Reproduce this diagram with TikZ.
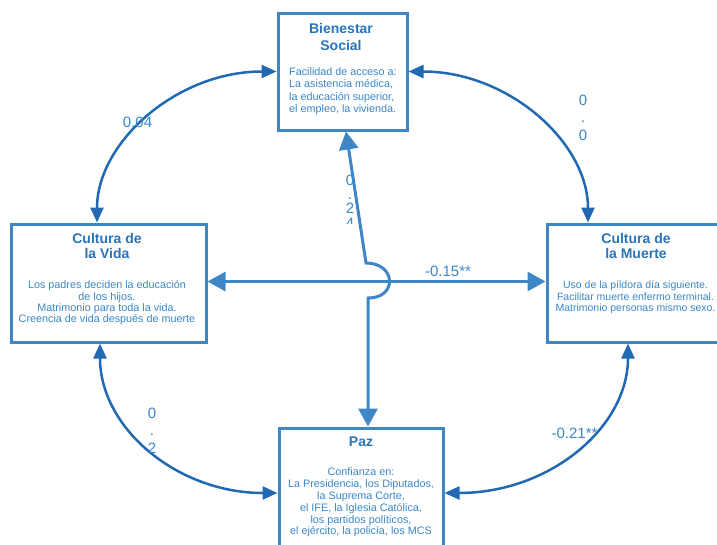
\documentclass[tikz,border=0pt]{standalone}
\usepackage{fontspec}
\setmainfont{Liberation Sans}
\usetikzlibrary{arrows.meta}
\definecolor{boxc}{HTML}{3F86C6}
\definecolor{arcc}{HTML}{2169B3}
\definecolor{linec}{HTML}{3F86C6}
\definecolor{textc}{HTML}{3A87C9}
\definecolor{titlec}{HTML}{2A74B9}
\begin{document}
\begin{tikzpicture}[x=1pt,y=-1pt,
  box/.style={draw=boxc, line width=3pt, fill=white, inner sep=0pt},
  ttl/.style={text=titlec, align=center, inner sep=0pt, font=\bfseries\fontsize{14}{#1}\selectfont},
  ttl/.default=15,
  body/.style={text=textc, inner sep=0pt, font=\fontsize{10.8}{#1}\selectfont},
  body/.default=12,
  lbl/.style={text=textc, inner sep=0pt, font=\fontsize{15}{18}\selectfont},
  arcline/.style={draw=arcc, line width=2.5pt, {Triangle[length=15pt,width=13pt]}-{Triangle[length=15pt,width=13pt]}},
  strline/.style={draw=linec, line width=3pt, {Triangle[length=18pt,width=19pt]}-{Triangle[length=18pt,width=19pt]}}
]
\useasboundingbox (0,0) rectangle (717,544);
\clip (0,0) rectangle (717,544);
\fill[white] (0,0) rectangle (717,544);

% boxes
\node[box, minimum width=129pt, minimum height=117pt] (bien) at (342.5,71.5) {};
\node[box, minimum width=195pt, minimum height=118pt] (vida) at (108.5,283) {};
\node[box, minimum width=178pt, minimum height=118pt] (muerte) at (636,283) {};
\node[box, minimum width=164pt, minimum height=130pt] (paz) at (361,493) {};

% titles
\node[ttl=17] (bienT) at (341,36.5) {Bienestar\\Social};
\node[ttl] (vidaT) at (107,245.5) {Cultura de\\la Vida};
\node[ttl] (muerteT) at (636,245.5) {Cultura de\\la Muerte};
\node[ttl] (pazT) at (361,442) {Paz};

% bodies
\node[body=12.2, align=left, anchor=west] (bienB) at (289,91.3) {Facilidad de acceso a:\\La asistencia médica,\\la educación superior,\\el empleo, la vivienda.};
\node[body=11.4, align=center] (vidaB) at (107,303) {Los padres deciden la educación\\de los hijos.\\Matrimonio para toda la vida.\\Creencia de vida después de muerte};
\node[text=textc, inner sep=0pt, font=\fontsize{10.5}{11.5}\selectfont, align=center] (muerteB) at (635.5,297.5) {Uso de la píldora día siguiente.\\Facilitar muerte enfermo terminal.\\Matrimonio personas mismo sexo.};
\node[body=11.8, align=center] (pazB) at (361,502.5) {Confianza en:\\La Presidencia, los Diputados,\\la Suprema Corte,\\el IFE, la Iglesia Católica,\\los partidos políticos,\\el ejército, la policía, los MCS};

% curved connectors
\draw[arcline] ([xshift=-11.5pt]vida.north) .. controls +(0,-80) and +(-100,0) .. (bien.west);
\draw[arcline] (bien.east) .. controls +(100,0) and +(0,-80) .. ([xshift=-48pt]muerte.north);
\draw[arcline] ([xshift=-8.5pt]vida.south) .. controls +(0,85) and +(-100,0) .. (paz.west);
\draw[arcline] ([xshift=-8pt]muerte.south) .. controls +(0,84) and +(105,0) .. (paz.east);

% straight connectors
\draw[strline] ([yshift=1.5pt]vida.east) -- ([yshift=1.5pt]muerte.west);
\coordinate (hopT) at (366,263);
\coordinate (hopB) at (368,298);
\draw[strline] ([xshift=3.5pt]bien.south) -- (hopT) .. controls +(30,0) and +(30,0) .. (hopB) -- ([xshift=7pt]paz.north);

% labels
\node[lbl] (l004) at (137.5,122) {0.04};
\node[lbl] (l015) at (448,271) {-0.15**};
\node[lbl] (l021) at (574.5,433) {-0.21**};

\node[lbl, anchor=base] (r1) at (583,105.3) {0};
\node[lbl, anchor=base] (r2) at (583,122.8) {.};
\node[lbl, anchor=base] (r3) at (583,140.3) {0};

\node[lbl, anchor=base] (b1) at (152,418.3) {0};
\node[lbl, anchor=base] (b2) at (152,435.8) {.};
\node[lbl, anchor=base] (b3) at (152,453.3) {2};

\node[lbl, anchor=base] (s1) at (350,185.3) {0};
\node[lbl, anchor=base] (s2) at (350,199.5) {.};
\node[lbl, anchor=base] (s3) at (350,213.8) {2};
\begin{scope}
\clip (340,216) rectangle (362,223.5);
\node[lbl, anchor=base] (s4) at (350,228) {4};
\end{scope}
\end{tikzpicture}
\end{document}
